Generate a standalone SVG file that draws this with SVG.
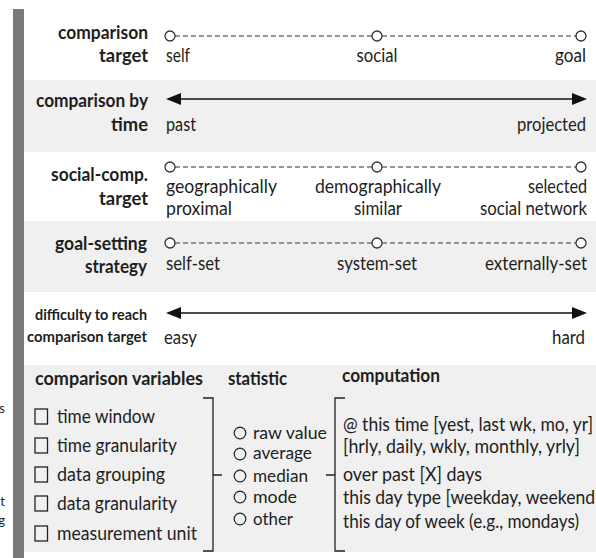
<svg xmlns="http://www.w3.org/2000/svg" width="596" height="558" viewBox="0 0 596 558">
  <defs>
    <style>
      text { font-family: Lato, "Liberation Sans", sans-serif; fill: #1e1e1e; }
      .lbl { font-weight: bold; font-size: 18px; text-anchor: end; }
      .sm { font-weight: bold; font-size: 15px; text-anchor: end; }
      .hd { font-weight: bold; font-size: 18px; }
      .v { font-size: 18.5px; }
      .lst { font-size: 19.5px; }
      .st { font-size: 18px; }
      .mid { text-anchor: middle; }
      .end { text-anchor: end; }
      .frag { font-size: 13px; text-anchor: end; }
      .band { fill: #f0f0f0; }
      .dash { stroke: #333; stroke-width: 1; stroke-dasharray: 5 3; fill: none; }
      .pt { fill: #fff; stroke: #333; stroke-width: 1.3; }
      .axis { stroke: #111; stroke-width: 1.6; marker-start: url(#head); marker-end: url(#head); }
      .box { fill: none; stroke: #222; stroke-width: 1.3; }
      .opt { fill: none; stroke: #222; stroke-width: 1.2; }
      .br { fill: none; stroke: #222; stroke-width: 1.3; }
    </style>
    <marker id="head" viewBox="0 0 15 12" refX="12" refY="6" markerWidth="15" markerHeight="12" markerUnits="userSpaceOnUse" orient="auto-start-reverse">
      <path d="M0,0 L15,6 L0,12 z" fill="#111"/>
    </marker>
  </defs>

  <!-- background bands and side bar -->
  <g id="background">
    <rect x="0" y="0" width="596" height="558" fill="#fff"/>
    <rect class="band" x="24" y="80" width="572" height="72"/>
    <rect class="band" x="24" y="221" width="572" height="71"/>
    <rect class="band" x="24" y="365" width="572" height="187"/>
    <rect x="13" y="9" width="11" height="549" fill="#7a7a7a"/>
  </g>

  <!-- clipped letters of neighbouring text at the left edge -->
  <g id="edge-text">
    <text class="frag" x="5" y="413">s</text>
    <text class="frag" x="5" y="506">t</text>
    <text class="frag" x="5" y="525">g</text>
  </g>

  <!-- scale lines -->
  <g id="connectors">
    <line class="dash" x1="175" y1="36" x2="372" y2="36"/>
    <line class="dash" x1="382" y1="36" x2="576" y2="36"/>
    <line class="axis" x1="169" y1="99" x2="584" y2="99"/>
    <line class="dash" x1="175" y1="167" x2="372" y2="167"/>
    <line class="dash" x1="382" y1="167" x2="576" y2="167"/>
    <line class="dash" x1="175" y1="243" x2="372" y2="243"/>
    <line class="dash" x1="382" y1="243" x2="576" y2="243"/>
    <line class="axis" x1="169" y1="313" x2="584" y2="313"/>
  </g>

  <g id="comparison-target">
    <text class="lbl" x="148" y="39" textLength="90" lengthAdjust="spacingAndGlyphs">comparison</text>
    <text class="lbl" x="148" y="62" textLength="49" lengthAdjust="spacingAndGlyphs">target</text>
    <circle class="pt" cx="170" cy="36" r="5"/>
    <circle class="pt" cx="377" cy="36" r="5"/>
    <circle class="pt" cx="581" cy="36" r="5"/>
    <text class="v" x="166" y="62" textLength="24" lengthAdjust="spacingAndGlyphs">self</text>
    <text class="v mid" x="377" y="62" textLength="41" lengthAdjust="spacingAndGlyphs">social</text>
    <text class="v end" x="586" y="62" textLength="31" lengthAdjust="spacingAndGlyphs">goal</text>
  </g>

  <g id="comparison-by-time">
    <text class="lbl" x="148" y="107" textLength="112" lengthAdjust="spacingAndGlyphs">comparison by</text>
    <text class="lbl" x="148" y="131" textLength="37" lengthAdjust="spacingAndGlyphs">time</text>
    <text class="v" x="166" y="131" textLength="30" lengthAdjust="spacingAndGlyphs">past</text>
    <text class="v end" x="586" y="131" textLength="69" lengthAdjust="spacingAndGlyphs">projected</text>
  </g>

  <g id="social-comp-target">
    <text class="lbl" x="148" y="181" textLength="97" lengthAdjust="spacingAndGlyphs">social-comp.</text>
    <text class="lbl" x="148" y="205" textLength="49" lengthAdjust="spacingAndGlyphs">target</text>
    <circle class="pt" cx="170" cy="167" r="5"/>
    <circle class="pt" cx="377" cy="167" r="5"/>
    <circle class="pt" cx="581" cy="167" r="5"/>
    <text class="v" x="166" y="193" textLength="111" lengthAdjust="spacingAndGlyphs">geographically</text>
    <text class="v" x="166" y="215" textLength="66" lengthAdjust="spacingAndGlyphs">proximal</text>
    <text class="v mid" x="378" y="193" textLength="126" lengthAdjust="spacingAndGlyphs">demographically</text>
    <text class="v mid" x="378" y="215" textLength="48" lengthAdjust="spacingAndGlyphs">similar</text>
    <text class="v end" x="587" y="193" textLength="59" lengthAdjust="spacingAndGlyphs">selected</text>
    <text class="v end" x="587" y="215" textLength="107" lengthAdjust="spacingAndGlyphs">social network</text>
  </g>

  <g id="goal-setting-strategy">
    <text class="lbl" x="147" y="250" textLength="92" lengthAdjust="spacingAndGlyphs">goal-setting</text>
    <text class="lbl" x="147" y="273" textLength="62" lengthAdjust="spacingAndGlyphs">strategy</text>
    <circle class="pt" cx="170" cy="243" r="5"/>
    <circle class="pt" cx="377" cy="243" r="5"/>
    <circle class="pt" cx="581" cy="243" r="5"/>
    <text class="v" x="166" y="270" textLength="54" lengthAdjust="spacingAndGlyphs">self-set</text>
    <text class="v mid" x="377" y="270" textLength="80" lengthAdjust="spacingAndGlyphs">system-set</text>
    <text class="v end" x="587" y="270" textLength="102" lengthAdjust="spacingAndGlyphs">externally-set</text>
  </g>

  <g id="difficulty">
    <text class="sm" x="147" y="320" textLength="112" lengthAdjust="spacingAndGlyphs">difficulty to reach</text>
    <text class="sm" x="147" y="342" textLength="120" lengthAdjust="spacingAndGlyphs">comparison target</text>
    <text class="v" x="164" y="344" textLength="33" lengthAdjust="spacingAndGlyphs">easy</text>
    <text class="v end" x="585" y="344" textLength="33" lengthAdjust="spacingAndGlyphs">hard</text>
  </g>

  <g id="comparison-variables">
    <text class="hd" x="35" y="385" textLength="168" lengthAdjust="spacingAndGlyphs">comparison variables</text>
    <rect class="box" x="35" y="409" width="12.5" height="15"/>
    <rect class="box" x="35" y="438" width="12.5" height="15"/>
    <rect class="box" x="35" y="467" width="12.5" height="15"/>
    <rect class="box" x="35" y="496" width="12.5" height="15"/>
    <rect class="box" x="35" y="526" width="12.5" height="15"/>
    <text class="lst" x="57" y="423" textLength="98" lengthAdjust="spacingAndGlyphs">time window</text>
    <text class="lst" x="57" y="452" textLength="120" lengthAdjust="spacingAndGlyphs">time granularity</text>
    <text class="lst" x="57" y="481" textLength="108" lengthAdjust="spacingAndGlyphs">data grouping</text>
    <text class="lst" x="57" y="510" textLength="120" lengthAdjust="spacingAndGlyphs">data granularity</text>
    <text class="lst" x="57" y="540" textLength="140" lengthAdjust="spacingAndGlyphs">measurement unit</text>
    <path class="br" d="M203,398 H213 V551 H203 M213,475 H222"/>
  </g>

  <g id="statistic">
    <text class="hd" x="228" y="385" textLength="59" lengthAdjust="spacingAndGlyphs">statistic</text>
    <circle class="opt" cx="240" cy="433" r="5.8"/>
    <circle class="opt" cx="240" cy="454" r="5.8"/>
    <circle class="opt" cx="240" cy="476" r="5.8"/>
    <circle class="opt" cx="240" cy="497" r="5.8"/>
    <circle class="opt" cx="240" cy="519" r="5.8"/>
    <text class="st" x="253" y="439" textLength="74" lengthAdjust="spacingAndGlyphs">raw value</text>
    <text class="st" x="253" y="459" textLength="59" lengthAdjust="spacingAndGlyphs">average</text>
    <text class="st" x="253" y="482" textLength="55" lengthAdjust="spacingAndGlyphs">median</text>
    <text class="st" x="253" y="503" textLength="44" lengthAdjust="spacingAndGlyphs">mode</text>
    <text class="st" x="253" y="525" textLength="40" lengthAdjust="spacingAndGlyphs">other</text>
  </g>

  <g id="computation">
    <text class="hd" x="342" y="382" textLength="98" lengthAdjust="spacingAndGlyphs">computation</text>
    <path class="br" d="M345,398 H335 V551 H345 M335,475 H326"/>
    <text class="lst" x="343" y="431" textLength="250" lengthAdjust="spacingAndGlyphs">@ this time [yest, last wk, mo, yr]</text>
    <text class="lst" x="343" y="453" textLength="237" lengthAdjust="spacingAndGlyphs">[hrly, daily, wkly, monthly, yrly]</text>
    <text class="lst" x="343" y="481" textLength="139" lengthAdjust="spacingAndGlyphs">over past [X] days</text>
    <text class="lst" x="343" y="504" textLength="252" lengthAdjust="spacingAndGlyphs">this day type [weekday, weekend</text>
    <text class="lst" x="343" y="528" textLength="236" lengthAdjust="spacingAndGlyphs">this day of week (e.g., mondays)</text>
  </g>
</svg>
